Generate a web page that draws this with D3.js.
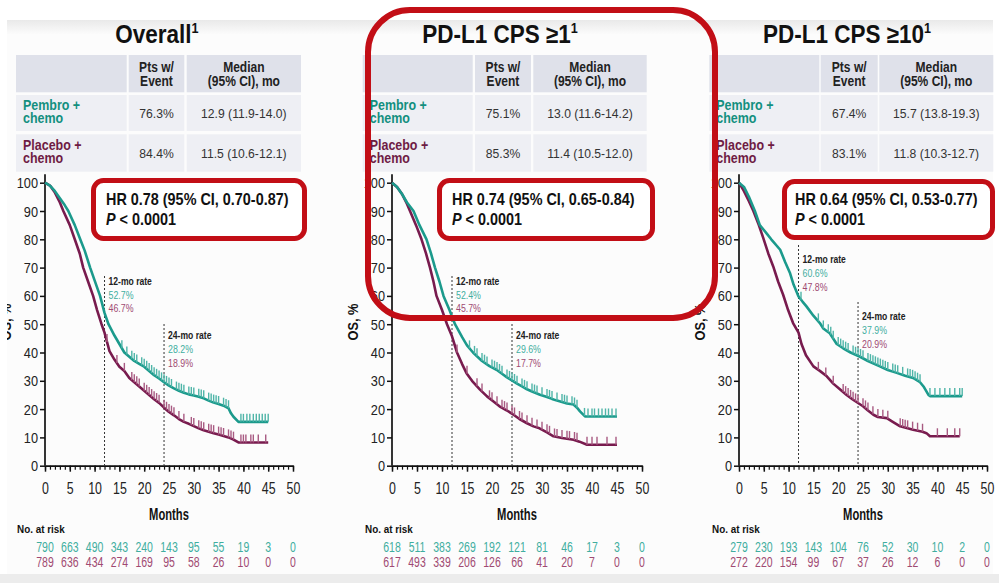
<!DOCTYPE html>
<html>
<head>
<meta charset="utf-8">
<script src="https://cdn.jsdelivr.net/npm/d3@7"></script>
<style>
  body { margin: 0; background: #fff; }
  svg { display: block; }
</style>
</head>
<body>
<div id="chart"></div>
<script>
// ---- data ----
var panelTitles = ["Overall", "PD-L1 CPS \u22651", "PD-L1 CPS \u226510"];
var armNames = [["Pembro +", "chemo"], ["Placebo +", "chemo"]];
var ptsWithEvent = [["76.3%", "84.4%"], ["75.1%", "85.3%"], ["67.4%", "83.1%"]];
var medianOS = [["12.9 (11.9-14.0)", "11.5 (10.6-12.1)"],
                ["13.0 (11.6-14.2)", "11.4 (10.5-12.0)"],
                ["15.7 (13.8-19.3)", "11.8 (10.3-12.7)"]];
var hrText = ["HR 0.78 (95% CI, 0.70-0.87)", "HR 0.74 (95% CI, 0.65-0.84)", "HR 0.64 (95% CI, 0.53-0.77)"];
var rate12 = [["52.7%", "46.7%"], ["52.4%", "45.7%"], ["60.6%", "47.8%"]];
var rate24 = [["28.2%", "18.9%"], ["29.6%", "17.7%"], ["37.9%", "20.9%"]];
var monthTicks = [0, 5, 10, 15, 20, 25, 30, 35, 40, 45, 50];
var osTicks = [0, 10, 20, 30, 40, 50, 60, 70, 80, 90, 100];
var riskPembro = [[790, 663, 490, 343, 240, 143, 95, 55, 19, 3, 0],
                  [618, 511, 383, 269, 192, 121, 81, 46, 17, 3, 0],
                  [279, 230, 193, 143, 104, 76, 52, 30, 10, 2, 0]];
var riskPlacebo = [[789, 636, 434, 274, 169, 95, 58, 26, 10, 0, 0],
                   [617, 493, 339, 206, 126, 66, 41, 20, 7, 0, 0],
                   [272, 220, 154, 99, 67, 37, 26, 12, 6, 0, 0]];

// KM curves [month, OS %]
var overallPembro = [[0,100],[1,99],[2,97],[3,94.5],[4,92],[4.7,90],[6,85],[7.1,80],[8,76],[9.1,70],[10,65.5],[11.1,60],[12,54],[12.8,50],[14,46],[15,43],[16,40],[17,38.5],[18,37],[19,36],[20,35],[21,33.5],[22,32],[23,30.8],[24,29.5],[25,28.3],[26,27.3],[27,26.5],[28,25.8],[29,25.2],[30,24.8],[31,24.4],[32,23.8],[33,23],[34,22.3],[35,21.8],[36,21.2],[37,20.3],[37.5,18.5],[38,17.3],[39,15.5],[45,15.5]];
var overallPlacebo = [[0,100],[1,99],[2,96.5],[3,93],[3.7,90],[5,85],[6,80],[7,75],[7.7,70],[8.7,65],[9.7,60],[10.5,55],[11.4,50],[12,47],[13,40.5],[14,37.5],[15,35],[16,33.5],[17,31],[18,29.5],[19,28],[20,26.5],[21,25],[22,23.5],[23,22.2],[24,20.5],[25,19],[26,17.8],[27,16.5],[28,15.5],[29,14.8],[30,14],[31,13.2],[32,12.5],[33,12],[34,11.5],[35,11],[36,10.5],[37,10],[38,9.2],[39,8.2],[45,8.2]];
var cps1Pembro = [[0,100],[1,98.5],[2,96],[3,93],[4.3,90],[5.5,85],[6.9,80],[7.8,75],[8.6,70],[9.5,65],[10.3,60],[11.5,55],[12.6,50],[14,45.5],[15,42.5],[16.2,40],[18,37],[19.5,35.2],[20.9,33.9],[22,32.5],[23,31.2],[24.3,29.8],[25,29],[26,28],[27,27],[28,26.2],[29.6,25.1],[31,24.3],[32,23.6],[33,23],[34,22.5],[35,22],[36.3,21.6],[37,20.5],[37.6,19.2],[38.6,17.4],[45,17.4]];
var cps1Placebo = [[0,100],[1,98.5],[2,96],[3,92.5],[3.6,90],[4.8,85],[5.9,80],[6.8,75],[7.6,70],[8.3,65],[8.9,60],[10,55],[11,50],[12,45.7],[13,40],[14,36],[14.9,32.7],[16,30],[17.6,26.9],[19,24.5],[20.3,22.7],[21.5,21],[23,19.5],[24.3,18],[25.5,16.5],[27,15],[28.3,13.9],[29.5,13.2],[31,11.8],[32.3,10.4],[34,9.8],[36.3,9.2],[37.5,8.5],[39,7.4],[45,7.4]];
var cps10Pembro = [[0,100],[1,98.5],[2,95],[3.2,90],[4.2,85],[5.6,82],[6.5,80],[8.3,76.3],[9.3,72],[10.3,68],[11,64],[12,59.8],[12.8,58],[13.6,56.3],[15,53],[16.3,50.4],[17,48.5],[18.3,46.8],[19.7,43],[21,41.5],[22.5,40],[24.4,38.5],[26,37],[28.4,35.1],[30,33.8],[31.8,32.8],[33.5,31.8],[35.1,31],[36.5,29.5],[37.2,28],[38.2,25],[38.5,24.6],[45,24.6]];
var cps10Placebo = [[0,100],[1,97],[2,93.5],[2.9,90],[4,85],[4.9,80.4],[5.9,75],[6.9,70.4],[7.9,65],[8.9,60.4],[9.9,55],[10.9,50.4],[12,47],[12.6,43],[13.5,39],[15,35.1],[16.3,33.5],[17.7,31.6],[19,29],[20.4,26.9],[21.7,25],[23,23.3],[25,21],[26,19.5],[27.1,18],[28,17.2],[29.8,16.8],[31,15.5],[32.5,13.9],[34,13.2],[35.1,12.7],[37,12],[37.8,11.5],[38.5,10.4],[44.5,10.4]];

// censoring marks (months)
var overallPembroCens = [15.5,16.5,17.5,18,18.5,19.5,20,20.5,21,21.5,22,22.5,23,23.5,24,24.5,25,25.5,26.5,27,27.5,28,29,29.5,30,31,31.5,32,33,33.5,34,34.5,35,36,36.5,37,39.5,40,40.7,41.3,42,42.6,43.2,43.8,44.4,45];
var overallPlaceboCens = [12.5,14.5,16,17.5,18,18.5,19,20,20.5,21,21.5,22,22.5,23,24,24.5,25,25.5,26,27,28,29.5,30,31,31.5,32,33,33.5,34,35,35.5,36,37,37.5,38,39.5,40,40.5,41.5,42,43,44.5];
var cps1PembroCens = [15.5,16.5,17,18,18.5,19,20,20.5,21,21.5,22,23,23.5,24,24.5,25,26,26.5,27,28,28.5,29,30,31,31.5,32,33,34,34.5,35,36,36.5,37,38.5,39.2,40,40.5,41.3,42,42.7,43.3,44,44.8];
var cps1PlaceboCens = [13,15,17,18,19.5,20,21,22,22.5,23,24,24.5,25.5,26,27,28,29,30,31,31.5,32.5,33,34,35,35.5,36.5,37,39,40,41,43,44.8];
var cps10PembroCens = [12.5,16,17,18,18.5,19,20,20.5,21,21.5,22,23,23.5,24,24.5,25,26,26.5,27,27.5,28,28.5,29,29.5,30,31,31.5,32,33,34,34.5,35,35.5,36,36.5,38.5,39.5,40.5,41.5,42.5,43.5,44.5,45];
var cps10PlaceboCens = [16,17.5,19,21,21.5,22,22.5,23,23.5,24,25,25.5,26,27,28,29,30,32.5,33,33.5,34,35,36,37,40,42,43.5,44.5];

var kmPembro = [overallPembro, cps1Pembro, cps10Pembro];
var kmPlacebo = [overallPlacebo, cps1Placebo, cps10Placebo];
var censPembro = [overallPembroCens, cps1PembroCens, cps10PembroCens];
var censPlacebo = [overallPlaceboCens, cps1PlaceboCens, cps10PlaceboCens];

// ---- layout ----
var W = 999, H = 583;
var FONT = "'Liberation Sans', Arial, sans-serif";
var teal = "#1b9a8c", tealText = "#138f7f", tealLight = "#3fae9f";
var maroon = "#781b4e", maroonText = "#6e1c44", maroonLight = "#a04a72";
var red = "#c20e16";

var layout = [
  {x0: 45,  x1: 293, cols: [[16,126.7],[128.7,184.3],[186.7,301]], hr: [93.5,180.5,211,58], titleX: 157, hrX: 106, osX: 11, riskX: 17,
   r12: [276,285,299,312], r24: [324,339,353,367]},
  {x0: 392, x1: 642, cols: [[362.7,472.7],[475,531],[533.3,646.7]], hr: [439.5,180.5,213,58], titleX: 500, hrX: 452, osX: 358, riskX: 365,
   r12: [276,285,299,312], r24: [324,339,353,367]},
  {x0: 739, x1: 987, cols: [[709.3,819.3],[820.7,877.7],[879.3,993.3]], hr: [784.5,181.5,208,56], titleX: 847, hrX: 795, osX: 705, riskX: 712,
   r12: [245,263,277,291], r24: [302,320,334,348]}
];

var svg = d3.select("#chart").append("svg")
    .attr("width", W).attr("height", H);

// slide background
svg.append("rect").attr("x", 0).attr("y", 0).attr("width", W).attr("height", H).attr("fill", "#fff");
var defs = svg.append("defs");
var grad = defs.append("linearGradient").attr("id", "topband").attr("x1", 0).attr("y1", 0).attr("x2", 0).attr("y2", 1);
grad.append("stop").attr("offset", 0).attr("stop-color", "#e9e9e9");
grad.append("stop").attr("offset", 1).attr("stop-color", "#fbfbfb");
svg.append("rect").attr("x", 7).attr("y", 20).attr("width", 986).attr("height", 556).attr("fill", "#fcfcfc");
svg.append("rect").attr("x", 7).attr("y", 20).attr("width", 986).attr("height", 14).attr("fill", "url(#topband)");
svg.append("rect").attr("x", 0).attr("y", 574).attr("width", W).attr("height", 9).attr("fill", "#ececec");
defs.append("clipPath").attr("id", "slideclip").append("rect")
    .attr("x", 7).attr("y", 20).attr("width", 986).attr("height", 556);

// text helper: condensed look via horizontal scale; arrays become stacked lines
function txt(g, x, y, s, o) {
  o = o || {};
  var t = g.append("text")
      .attr("transform", "translate(" + x + "," + y + ") scale(" + (o.sx || 0.86) + ",1)")
      .attr("font-family", FONT)
      .attr("font-size", o.size || 12)
      .attr("font-weight", o.bold ? "bold" : "normal")
      .attr("fill", o.fill || "#222")
      .attr("text-anchor", o.anchor || "start");
  if (Array.isArray(s)) {
    s.forEach(function(line, i) {
      t.append("tspan").attr("x", 0).attr("dy", i === 0 ? 0 : (o.lh || 14)).text(line);
    });
  } else if (s !== null) {
    t.text(s);
  }
  return t;
}

function survAt(curve, t) {
  var i = d3.bisector(function(d) { return d[0]; }).right(curve, t) - 1;
  if (i < 0) return curve[0][1];
  if (i >= curve.length - 1) return curve[curve.length - 1][1];
  var a = curve[i], b = curve[i + 1];
  return a[1] + (b[1] - a[1]) * (t - a[0]) / (b[0] - a[0]);
}

layout.forEach(function(L, p) {
  var g = svg.append("g");

  // title with superscript
  var tt = txt(g, L.titleX, 43, null, {size: 25, bold: true, anchor: "middle", sx: 0.9, fill: "#111"});
  tt.append("tspan").text(panelTitles[p]);
  tt.append("tspan").attr("font-size", 14).attr("dy", -10).text("1");

  // table
  var rowsY = [[55, 92.3], [95, 131], [134.3, 171.7]];
  rowsY.forEach(function(r, ri) {
    L.cols.forEach(function(c) {
      g.append("rect")
        .attr("x", c[0]).attr("y", r[0])
        .attr("width", c[1] - c[0]).attr("height", r[1] - r[0])
        .attr("fill", ri === 0 ? "#dfe1ea" : "#eeeff4");
    });
  });
  var c2 = (L.cols[1][0] + L.cols[1][1]) / 2, c3 = (L.cols[2][0] + L.cols[2][1]) / 2;
  txt(g, c2, 72, ["Pts w/", "Event"], {size: 14, bold: true, anchor: "middle"});
  txt(g, c3, 72, ["Median", "(95% CI), mo"], {size: 14, bold: true, anchor: "middle"});
  [0, 1].forEach(function(a) {
    var base = a === 0 ? 110 : 149.5;
    var col = a === 0 ? tealText : maroonText;
    txt(g, L.cols[0][0] + 7, base, armNames[a], {size: 14, bold: true, fill: col, sx: 0.89, lh: 13.5});
    txt(g, c2, base + 8, ptsWithEvent[p][a], {size: 13.5, fill: "#333", anchor: "middle", sx: 0.9});
    txt(g, c3, base + 8, medianOS[p][a], {size: 13.5, fill: "#333", anchor: "middle", sx: 0.9});
  });

  // scales
  var x = d3.scaleLinear().domain([0, 50]).range([L.x0, L.x1]);
  var y = d3.scaleLinear().domain([0, 100]).range([465.7, 182.7]);

  // y axis
  var ya = g.append("g").attr("transform", "translate(" + L.x0 + ",0)")
      .call(d3.axisLeft(y).tickValues(osTicks).tickSize(5).tickSizeOuter(0).tickPadding(3));
  ya.select(".domain").remove();
  ya.selectAll("line").attr("stroke", "#111").attr("stroke-width", 1.5);
  ya.selectAll("text")
    .attr("font-family", FONT).attr("font-size", 14.5).attr("fill", "#222")
    .attr("x", null).attr("dy", "0.35em")
    .attr("transform", "translate(-7,0) scale(0.88,1)");
  g.append("line")
    .attr("x1", L.x0).attr("x2", L.x0)
    .attr("y1", y(0)).attr("y2", y(103))
    .attr("stroke", "#111").attr("stroke-width", 1.7);

  // x axis: minor ticks every month, labelled every 5
  var xa2 = g.append("g").attr("transform", "translate(0," + y(0) + ")")
      .call(d3.axisBottom(x).ticks(50).tickSize(4).tickSizeOuter(0).tickFormat(""));
  xa2.select(".domain").remove();
  xa2.selectAll("line").attr("stroke", "#111").attr("stroke-width", 1.2);
  var xa = g.append("g").attr("transform", "translate(0," + y(0) + ")")
      .call(d3.axisBottom(x).tickValues(monthTicks).tickSize(6).tickSizeOuter(0).tickPadding(8));
  xa.select(".domain").attr("stroke", "#111").attr("stroke-width", 1.7);
  xa.selectAll("line").attr("stroke", "#111").attr("stroke-width", 1.5);
  xa.selectAll("text")
    .attr("font-family", FONT).attr("font-size", 16.5).attr("fill", "#222")
    .attr("y", null).attr("dy", null)
    .attr("transform", "translate(0,28) scale(0.75,1)");

  txt(g, (L.x0 + L.x1) / 2, 520, "Months", {size: 16, bold: true, anchor: "middle", sx: 0.7, fill: "#111"});

  // OS axis title (first panel's is cut by the slide edge, as in the source)
  var osg = g.append("g");
  if (p === 0) osg.attr("clip-path", "url(#slideclip)");
  osg.append("text")
    .attr("transform", "translate(" + L.osX + ",322) rotate(-90) scale(0.85,1)")
    .attr("font-family", FONT).attr("font-size", 15).attr("font-weight", "bold")
    .attr("fill", "#111").attr("text-anchor", "middle")
    .text("OS, %");

  // landmark lines
  [[12, L.r12, rate12[p], "12-mo rate"], [24, L.r24, rate24[p], "24-mo rate"]].forEach(function(m) {
    g.append("line")
      .attr("x1", x(m[0])).attr("x2", x(m[0]))
      .attr("y1", m[1][0]).attr("y2", y(0))
      .attr("stroke", "#333").attr("stroke-width", 1).attr("stroke-dasharray", "2,2");
    txt(g, x(m[0]) + 4, m[1][1], m[3], {size: 11, bold: true, sx: 0.78, fill: "#222"});
    txt(g, x(m[0]) + 4, m[1][2], m[2][0], {size: 11, sx: 0.8, fill: tealLight});
    txt(g, x(m[0]) + 4, m[1][3], m[2][1], {size: 11, sx: 0.8, fill: maroonLight});
  });

  // KM curves
  var line = d3.line()
      .x(function(d) { return x(d[0]); })
      .y(function(d) { return y(d[1]); });
  [[kmPlacebo[p], censPlacebo[p], maroon, "#a85a82"], [kmPembro[p], censPembro[p], teal, "#4fb5a8"]].forEach(function(s) {
    g.append("path").datum(s[0])
      .attr("d", line)
      .attr("fill", "none").attr("stroke", s[2]).attr("stroke-width", 2.6)
      .attr("stroke-linejoin", "round");
    g.selectAll(null).data(s[1]).enter().append("line")
      .attr("x1", function(d) { return x(d); })
      .attr("x2", function(d) { return x(d); })
      .attr("y1", function(d) { return y(survAt(s[0], d)); })
      .attr("y2", function(d) { return y(survAt(s[0], d)) - 8; })
      .attr("stroke", s[3]).attr("stroke-width", 1.4);
  });

  // HR box
  g.append("rect")
    .attr("x", L.hr[0]).attr("y", L.hr[1]).attr("width", L.hr[2]).attr("height", L.hr[3])
    .attr("rx", 10).attr("fill", "#fff").attr("stroke", red).attr("stroke-width", 5);
  txt(g, L.hrX, 205, hrText[p], {size: 16, bold: true, sx: 0.9, fill: "#111"});
  var pv = txt(g, L.hrX, 225, null, {size: 16, bold: true, sx: 0.9, fill: "#111"});
  pv.append("tspan").attr("font-style", "italic").text("P");
  pv.append("tspan").text(" < 0.0001");

  // number at risk
  txt(g, L.riskX, 533, "No. at risk", {size: 11.5, bold: true, sx: 0.86, fill: "#111"});
  monthTicks.forEach(function(m, i) {
    txt(g, x(m), 552, riskPembro[p][i], {size: 14, anchor: "middle", sx: 0.75, fill: tealLight});
    txt(g, x(m), 567, riskPlacebo[p][i], {size: 14, anchor: "middle", sx: 0.75, fill: maroonLight});
  });
});

// highlight around the CPS >= 1 panel
svg.append("rect")
  .attr("x", 368).attr("y", 10).attr("width", 347).attr("height", 308)
  .attr("rx", 42).attr("fill", "none").attr("stroke", red).attr("stroke-width", 6);
</script>
</body>
</html>
